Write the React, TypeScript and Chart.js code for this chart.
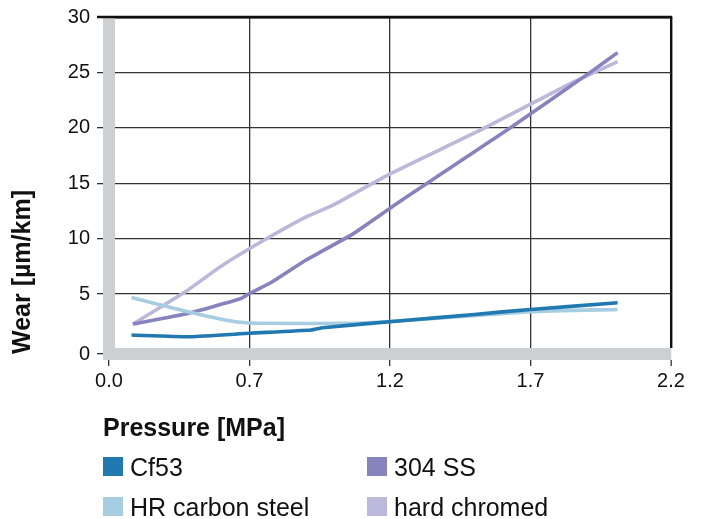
import { useEffect, useRef } from 'react';
import { Chart, registerables } from 'chart.js';

Chart.register(...registerables);

// ---- Data ----
const xTickValues = [0.2, 0.7, 1.2, 1.7, 2.2];
const xTickLabels = ['0.0', '0.7', '1.2', '1.7', '2.2'];
const yTickValues = [-0.4, 5, 10, 15, 20, 25, 30];
const yTickLabels = ['0', '5', '10', '15', '20', '25', '30'];

const seriesNames = ['Cf53', 'HR carbon steel', '304 SS', 'hard chromed'];
const seriesColors = ['#2079b0', '#a7cde2', '#8783bf', '#bcb8db'];

const pressureCf53 = [0.28, 0.49, 0.7, 0.92, 0.96, 1.24, 1.5, 1.7, 2.01];
const wearCf53 = [1.31, 1.16, 1.47, 1.76, 1.97, 2.6, 3.17, 3.62, 4.22];

const pressureHR = [0.28, 0.48, 0.65, 0.74, 1.07, 1.24, 1.7, 2.01];
const wearHR = [4.7, 3.41, 2.51, 2.37, 2.37, 2.6, 3.42, 3.62];

const pressure304 = [0.285, 0.48, 0.67, 0.7, 0.78, 0.9, 1.07, 1.24, 1.63, 1.92, 2.01];
const wear304 = [2.3, 3.26, 4.61, 5.06, 6.1, 8.06, 10.46, 13.45, 20.04, 25.14, 26.79];

const pressureChrome = [0.285, 0.48, 0.595, 0.74, 0.9, 0.995, 1.2, 1.53, 1.85, 2.01];
const wearChrome = [2.3, 5.36, 7.45, 9.7, 11.95, 13.0, 15.85, 19.9, 24.1, 25.98];

const xTitle = 'Pressure [MPa]';
const yTitle = 'Wear [µm/km]';

const FONT = '"Liberation Sans", Arial, Helvetica, sans-serif';
const TEXT = '#111111';
const AXIS_GRAY = '#cdd0d3';

const toPoints = (xs: number[], ys: number[]) => xs.map((x, i) => ({ x, y: ys[i] }));

const framePlugin = {
  id: 'frameAndLegend',
  afterDraw(chart: any) {
    const { ctx, chartArea } = chart;
    ctx.save();
    // trim the gray axis bar so it starts at the top frame line, then draw the top frame
    ctx.fillStyle = '#ffffff';
    ctx.fillRect(chartArea.left - 7, chartArea.top - 8, 14, 8);
    ctx.strokeStyle = '#111111';
    ctx.lineWidth = 2.4;
    ctx.beginPath();
    ctx.moveTo(chartArea.left - 12, chartArea.top);
    ctx.lineTo(chartArea.right + 1.2, chartArea.top);
    ctx.stroke();
    // fill the bottom-left corner where the two gray bars meet
    ctx.fillStyle = AXIS_GRAY;
    ctx.fillRect(chartArea.left - 6, chartArea.bottom - 6, 12, 12);

    // x title and legend
    const left = chartArea.left - 6;
    ctx.fillStyle = TEXT;
    ctx.textAlign = 'left';
    ctx.textBaseline = 'alphabetic';
    ctx.font = `bold 25px ${FONT}`;
    ctx.fillText(xTitle, left, 436);
    ctx.font = `25px ${FONT}`;
    chart.data.datasets.forEach((ds: any, i: number) => {
      const col = Math.floor(i / 2);
      const row = i % 2;
      const x = left + col * 264;
      const y = 457 + row * 40;
      ctx.fillStyle = ds.borderColor;
      ctx.fillRect(x, y, 20, 19);
      ctx.fillStyle = TEXT;
      ctx.fillText(ds.label, x + 27, y + 18.5);
    });
    ctx.restore();
  },
};

export default function App() {
  const canvasRef = useRef<HTMLCanvasElement | null>(null);

  useEffect(() => {
    document.body.style.margin = '0';
    if (!canvasRef.current) return;
    const datasets = [
      toPoints(pressureCf53, wearCf53),
      toPoints(pressureHR, wearHR),
      toPoints(pressure304, wear304),
      toPoints(pressureChrome, wearChrome),
    ].map((data, i) => ({
      label: seriesNames[i],
      data,
      borderColor: seriesColors[i],
      backgroundColor: seriesColors[i],
      borderWidth: 3.6,
      pointRadius: 0,
      pointHoverRadius: 0,
      tension: 0.15,
      fill: false,
    }));

    const lastX = xTickValues.length - 1;
    const lastY = yTickValues.length - 1;

    const chart = new Chart(canvasRef.current, {
      type: 'line',
      data: { datasets },
      plugins: [framePlugin],
      options: {
        animation: false,
        responsive: false,
        maintainAspectRatio: false,
        layout: { padding: { top: 16, right: 31, left: 0, bottom: 0 } },
        plugins: { legend: { display: false }, tooltip: { enabled: false } },
        scales: {
          x: {
            type: 'linear',
            min: 0.2,
            max: 2.2,
            afterBuildTicks: (s: any) => {
              s.ticks = xTickValues.map((v) => ({ value: v }));
            },
            afterFit: (s: any) => {
              s.height = 165;
            },
            ticks: {
              callback: (_v: any, i: number) => xTickLabels[i],
              font: { family: FONT, size: 20 },
              color: TEXT,
              padding: 3,
              maxRotation: 0,
              autoSkip: false,
            },
            grid: {
              color: (c: any) => (c.index === 0 ? 'rgba(0,0,0,0)' : c.index === lastX ? '#111' : '#333'),
              lineWidth: (c: any) => (c.index === lastX ? 2.4 : 1.3),
              tickLength: 12,
              tickColor: '#333',
              tickWidth: 1.3,
            },
            border: { display: true, color: AXIS_GRAY, width: 12, z: 1 },
          },
          y: {
            type: 'linear',
            min: -0.4,
            max: 30,
            afterBuildTicks: (s: any) => {
              s.ticks = yTickValues.map((v) => ({ value: v }));
            },
            afterFit: (s: any) => {
              s.width = 109;
            },
            ticks: {
              callback: (_v: any, i: number) => yTickLabels[i],
              font: { family: FONT, size: 20, lineHeight: 1 },
              color: TEXT,
              padding: 7,
              autoSkip: false,
            },
            title: {
              display: true,
              text: yTitle,
              align: 'start',
              font: { family: FONT, size: 25, weight: 'bold' },
              color: TEXT,
              padding: { top: 8, bottom: 0 },
            },
            grid: {
              color: (c: any) => (c.index === 0 ? 'rgba(0,0,0,0)' : c.index === lastY ? '#111' : '#333'),
              lineWidth: (c: any) => (c.index === lastY ? 2.4 : 1.3),
              tickLength: 12,
              tickColor: '#333',
              tickWidth: 1.3,
            },
            border: { display: true, color: AXIS_GRAY, width: 12, z: 1 },
          },
        },
      } as any,
    });
    return () => chart.destroy();
  }, []);

  return (
    <div style={{ width: 702, height: 519 }}>
      <canvas ref={canvasRef} width={702} height={519} style={{ display: 'block' }} />
    </div>
  );
}
